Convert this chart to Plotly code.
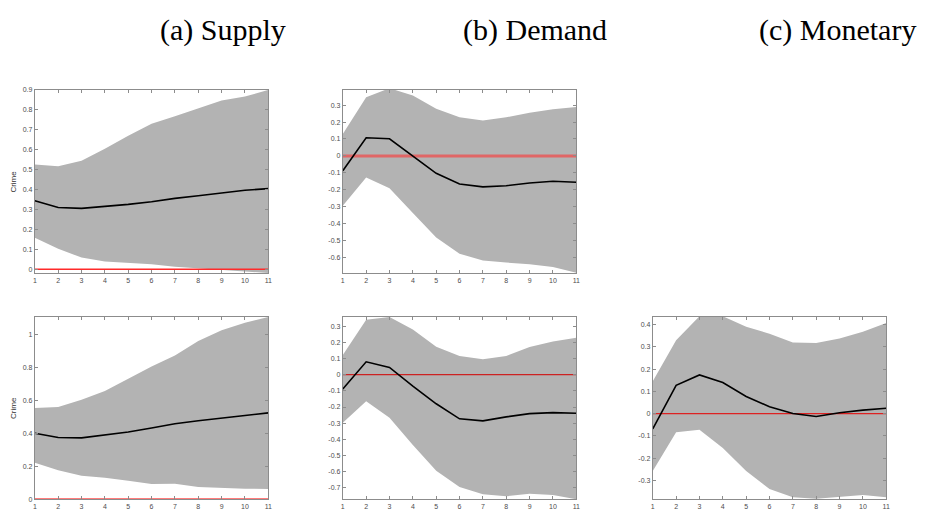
import plotly.graph_objects as go

x = list(range(1, 11 + 1))

# Row 1 (top)
supply1_mean = [0.344, 0.310, 0.306, 0.315, 0.326, 0.339, 0.356, 0.369, 0.384, 0.397, 0.405]
supply1_up = [0.526, 0.517, 0.545, 0.605, 0.670, 0.730, 0.768, 0.808, 0.847, 0.867, 0.900]
supply1_lo = [0.158, 0.104, 0.059, 0.040, 0.033, 0.026, 0.013, 0.005, -0.003, -0.010, -0.018]

demand1_mean = [-0.088, 0.107, 0.101, 0.000, -0.103, -0.166, -0.183, -0.176, -0.160, -0.150, -0.156]
demand1_up = [0.130, 0.347, 0.400, 0.357, 0.279, 0.228, 0.209, 0.228, 0.255, 0.275, 0.289]
demand1_lo = [-0.295, -0.127, -0.191, -0.338, -0.482, -0.578, -0.618, -0.630, -0.640, -0.657, -0.690]

# Row 2 (bottom)
supply2_mean = [0.401, 0.375, 0.373, 0.391, 0.409, 0.433, 0.459, 0.477, 0.491, 0.509, 0.525]
supply2_up = [0.555, 0.561, 0.605, 0.659, 0.733, 0.808, 0.874, 0.962, 1.028, 1.074, 1.108]
supply2_lo = [0.222, 0.176, 0.142, 0.130, 0.112, 0.092, 0.094, 0.074, 0.068, 0.064, 0.062]

demand2_mean = [-0.088, 0.080, 0.045, -0.071, -0.180, -0.273, -0.286, -0.261, -0.241, -0.235, -0.239]
demand2_up = [0.122, 0.341, 0.357, 0.280, 0.173, 0.116, 0.096, 0.116, 0.171, 0.206, 0.229]
demand2_lo = [-0.298, -0.165, -0.267, -0.435, -0.594, -0.696, -0.741, -0.753, -0.737, -0.745, -0.771]

monetary2_mean = [-0.068, 0.127, 0.174, 0.140, 0.077, 0.031, 0.001, -0.013, 0.004, 0.016, 0.024]
monetary2_up = [0.145, 0.329, 0.437, 0.437, 0.390, 0.359, 0.319, 0.317, 0.337, 0.368, 0.407]
monetary2_lo = [-0.257, -0.083, -0.072, -0.154, -0.257, -0.338, -0.375, -0.382, -0.375, -0.365, -0.375]

zero = [0] * len(x)

titles = ["(a) Supply", "(b) Demand", "(c) Monetary"]

# page body has an 8px default margin: lay out in page pixels, then offset
OFF = 8
W, H = 926 - OFF, 517 - OFF


def px_x(X):
    return (X - OFF) / W


def px_y(Y):
    return 1 - (Y - OFF) / H


xdom = [(33, 268), (343, 578), (655, 890)]
ydom = {1: (87, 273), 2: (317, 502)}

panels = [
    (1, 0, 1, supply1_mean, supply1_up, supply1_lo, [-0.02, 0.9], [round(0.1 * i, 1) for i in range(10)], ("#ff2a2a", 1.5), True),
    (2, 1, 1, demand1_mean, demand1_up, demand1_lo, [-0.694, 0.39], [round(-0.6 + 0.1 * i, 1) for i in range(10)], ("#e06666", 3), False),
    (3, 0, 2, supply2_mean, supply2_up, supply2_lo, [0, 1.11], [0, 0.2, 0.4, 0.6, 0.8, 1], ("#ff5050", 2), True),
    (4, 1, 2, demand2_mean, demand2_up, demand2_lo, [-0.771, 0.359], [round(-0.7 + 0.1 * i, 1) for i in range(11)], ("#cc2222", 1.2), False),
    (5, 2, 2, monetary2_mean, monetary2_up, monetary2_lo, [-0.384, 0.435], [round(-0.3 + 0.1 * i, 1) for i in range(8)], ("#dd2222", 1.2), False),
]

fig = go.Figure()
layout = dict(
    width=W, height=H, margin=dict(l=0, r=0, t=0, b=0),
    paper_bgcolor="white", plot_bgcolor="white", showlegend=False,
    font=dict(family="Liberation Sans, Arial", size=7, color="#4d4d4d"),
)
annotations = []
for idx, col, row, mean, up, lo, yr, tv, zs, ylab in panels:
    sfx = "" if idx == 1 else str(idx)
    xa, ya = "x" + sfx, "y" + sfx
    fig.add_trace(go.Scatter(x=x + x[::-1], y=up + lo[::-1], fill="toself",
                             fillcolor="#b3b3b3", line=dict(width=0), mode="lines",
                             hoverinfo="skip", xaxis=xa, yaxis=ya))
    fig.add_trace(go.Scatter(x=x, y=zero, mode="lines", line=dict(color=zs[0], width=zs[1]),
                             xaxis=xa, yaxis=ya))
    fig.add_trace(go.Scatter(x=x, y=mean, mode="lines", line=dict(color="black", width=1.6),
                             xaxis=xa, yaxis=ya))
    x0, x1 = xdom[col]
    y0, y1 = ydom[row]
    axcommon = dict(showgrid=False, zeroline=False, showline=True, linecolor="#8c8c8c",
                    linewidth=1, mirror="ticks", ticks="inside", ticklen=3, tickcolor="#8c8c8c",
                    tickfont=dict(size=7, color="#4d4d4d"))
    layout["xaxis" + sfx] = dict(domain=[px_x(x0), px_x(x1)], range=[1, 11], anchor=ya,
                                 tickvals=x, ticktext=[str(v) for v in x], **axcommon)
    layout["yaxis" + sfx] = dict(domain=[px_y(y1), px_y(y0)], range=yr, anchor=xa,
                                 tickvals=tv, ticktext=[("%g" % v) for v in tv], **axcommon)
    if ylab:
        annotations.append(dict(text="Crime", xref="paper", yref="paper",
                                x=px_x(12), y=px_y((y0 + y1) / 2), showarrow=False,
                                xanchor="center", yanchor="middle",
                                textangle=-90, font=dict(size=8, color="#333333",
                                                         family="Liberation Sans, Arial")))

tx = [222, 536, 841]
for t, cx in zip(titles, tx):
    annotations.append(dict(text=t, xref="paper", yref="paper", x=px_x(cx), y=px_y(26),
                            showarrow=False, xanchor="center", yanchor="middle",
                            font=dict(family="Liberation Serif, Times New Roman", size=30,
                                      color="black")))
layout["annotations"] = annotations
fig.update_layout(**layout)
fig.write_html("out.html")
